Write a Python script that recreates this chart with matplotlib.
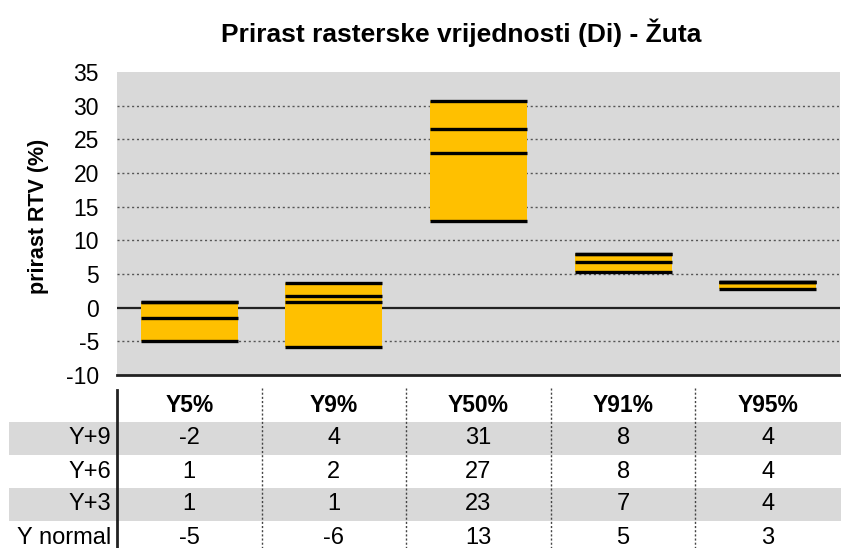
import matplotlib
matplotlib.use("Agg")
import matplotlib.pyplot as plt
import matplotlib.transforms as mtransforms
from matplotlib.patches import Rectangle
import numpy as np

plt.rcParams['font.family'] = ['Liberation Sans', 'DejaVu Sans']
plt.rcParams['axes.unicode_minus'] = False

# Data
categories = ["Y5%", "Y9%", "Y50%", "Y91%", "Y95%"]
series_names = ["Y+9", "Y+6", "Y+3", "Y normal"]
y_plus9 = [-1.6, 3.7, 30.7, 8.0, 3.8]
y_plus6 = [0.8, 1.7, 26.6, 7.9, 3.8]
y_plus3 = [0.8, 0.85, 22.9, 6.8, 3.8]
y_normal = [-4.9, -5.8, 12.9, 5.3, 2.8]
y_ticks = [35, 30, 25, 20, 15, 10, 5, 0, -5, -10]

series = [y_plus9, y_plus6, y_plus3, y_normal]
vals = np.array(series)
lows = vals.min(axis=0)
highs = vals.max(axis=0)

W, H = 841, 548
fig = plt.figure(figsize=(W / 100, H / 100), dpi=100)

# Main chart area (pixel layout)
left, right, top, bottom = 117, 840, 72, 375
ax = fig.add_axes([left / W, 1 - bottom / H, (right - left) / W, (bottom - top) / H])
ax.set_facecolor("#d9d9d9")
ax.set_xlim(-0.5, len(categories) - 0.5)
ax.set_ylim(-10, 35)
ax.set_yticks(y_ticks)
ax.tick_params(axis='y', length=0, labelsize=16.5, pad=13)
ax.set_xticks([])
for s in ["left", "right", "top"]:
    ax.spines[s].set_visible(False)
ax.spines["bottom"].set_linewidth(2)
ax.spines["bottom"].set_color("#222222")

for t in y_ticks:
    if t in (0, -10, 35):
        continue
    ax.axhline(t, color="#555555", lw=1.0, ls=(0, (1.5, 2.0)), zorder=1)
ax.axhline(0, color="#222222", lw=1.6, zorder=1)

x = np.arange(len(categories))
bar_w = 0.67
ax.bar(x, highs - lows, bottom=lows, width=bar_w, color="#FFC000", edgecolor="none", zorder=2)
for s in series:
    ax.hlines(s, x - bar_w / 2, x + bar_w / 2, color="black", lw=2.4, zorder=3)

ax.set_ylabel("prirast RTV (%)", fontsize=15.5, fontweight="bold")
ax.yaxis.set_label_coords(-0.094, 0.523)

fig.text(461 / W, 1 - 33 / H, "Prirast rasterske vrijednosti (Di) - Žuta",
         ha="center", va="center", fontsize=19, fontweight="bold")

# Data table below the chart
tax = fig.add_axes([0, 0, 1, 1], zorder=-1)
tax.set_xlim(0, W)
tax.set_ylim(H, 0)
tax.axis("off")
tr = mtransforms.blended_transform_factory(ax.transData, tax.transData)

row_top = 422
row_h = 33
header_y = 406
for r, name in enumerate(series_names):
    y0 = row_top + r * row_h
    if r % 2 == 0:
        tax.add_patch(Rectangle((9, y0), W - 9, row_h, facecolor="#d9d9d9", edgecolor="none"))
    yc = y0 + row_h / 2
    tax.text(111, yc, name, ha="right", va="center", fontsize=17)
    for i, v in enumerate(series[r]):
        tax.text(i, yc, f"{v:.0f}", transform=tr, ha="center", va="center", fontsize=17)

for i, c in enumerate(categories):
    tax.text(i, header_y, c, transform=tr, ha="center", va="center", fontsize=16.5, fontweight="bold")

for i in range(len(categories) - 1):
    tax.plot([i + 0.5, i + 0.5], [388, H], transform=tr, color="#444444", lw=1.0,
             ls=(0, (1.5, 1.5)))
tax.plot([117, 117], [390, H], color="#222222", lw=2.0)

fig.savefig("out.png", dpi=100)
